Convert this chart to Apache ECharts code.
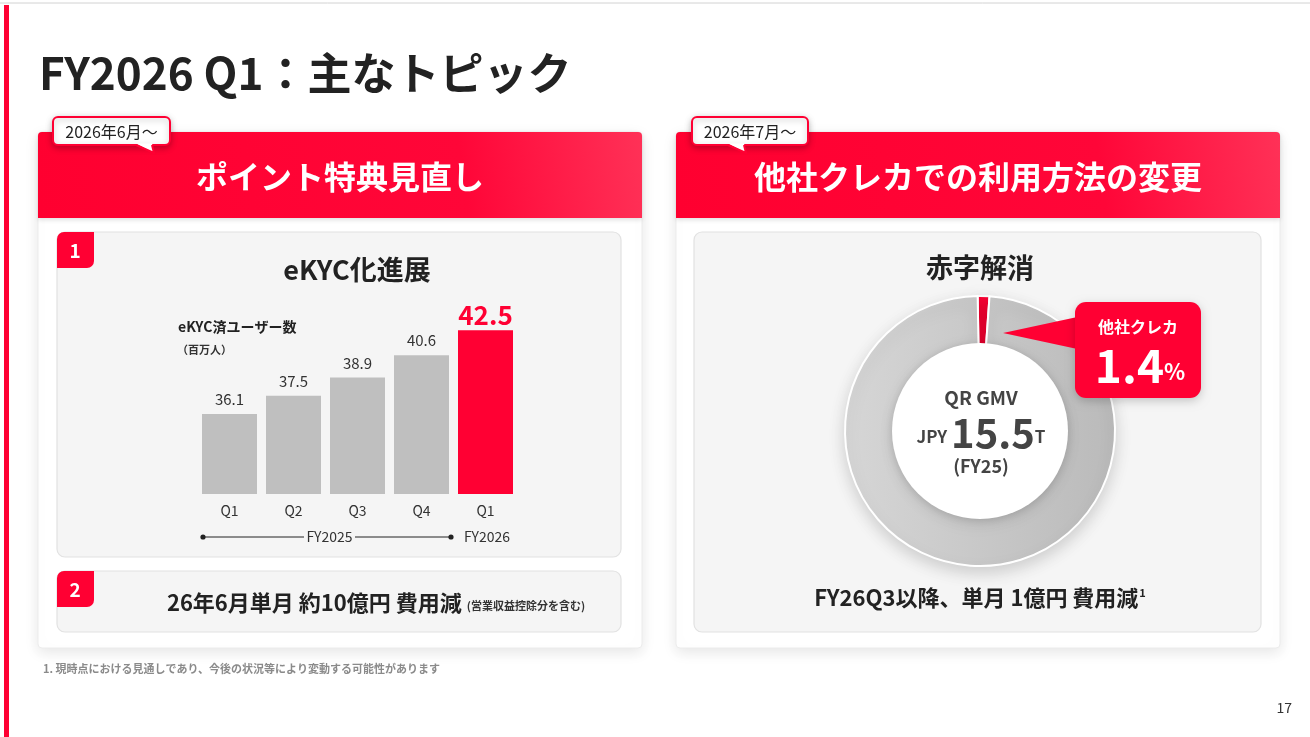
<!DOCTYPE html>
<html><head><meta charset="utf-8">
<script src="https://cdn.jsdelivr.net/npm/echarts@6/dist/echarts.min.js"></script>
<style>html,body{margin:0;padding:0;background:#fff;overflow:hidden}#c{width:1310px;height:737px}</style>
</head><body><div id="c"></div>
<script>
// ---- data ----
const categories = ['Q1', 'Q2', 'Q3', 'Q4', 'Q1'];
const ekycUsers = [36.1, 37.5, 38.9, 40.6, 42.5];
const highlightIndex = 4;
const fiscalGroups = ['FY2025', 'FY2026'];
const gmvShareNames = ['他社クレカ', 'その他'];
const gmvShareValues = [1.4, 98.6];
const gmvTotal = 15.5;

// ---- style ----
const F = '"Noto Sans CJK JP","Noto Sans",sans-serif';
const RED = '#ff0033';
const chart = echarts.init(document.getElementById('c'), null, {renderer: 'canvas'});

function headerGrad() {
  return new echarts.graphic.LinearGradient(0, 1, 1, 0, [
    {offset: 0, color: '#ff0030'}, {offset: 0.7, color: '#ff0638'}, {offset: 1, color: '#ff3157'}
  ]);
}
function txt(text, x, y, font, fill, align, z, extra) {
  return Object.assign({type: 'text', z: z || 20, style: Object.assign({
    text: text, x: x, y: y, font: font, fill: fill || '#222', align: align || 'left', verticalAlign: 'middle'
  }, extra || {})});
}
function tag(x, y, w, label, tailX) {
  const h = 28;
  return [
    {type: 'rect', z: 15, shape: {x: x, y: y, width: w, height: h, r: 5},
      style: {fill: '#fff', stroke: RED, lineWidth: 2, shadowBlur: 6, shadowColor: 'rgba(0,0,0,0.25)', shadowOffsetY: 2}},
    {type: 'polygon', z: 16, shape: {points: [[tailX - 14, y + h - 1.5], [tailX + 2, y + h - 1.5], [tailX + 4, y + h + 8]]},
      style: {fill: '#fff'}},
    {type: 'polyline', z: 16, shape: {points: [[tailX - 14, y + h], [tailX + 4, y + h + 8], [tailX + 2, y + h]]},
      style: {stroke: RED, lineWidth: 2, fill: null}},
    txt(label, x + w / 2, y + h / 2 + 0.5, '16px ' + F, '#222', 'center', 17)
  ];
}
function card(x, title, titleX) {
  return [
    {type: 'rect', z: 1, shape: {x: x, y: 132, width: 604, height: 516, r: 4},
      style: {fill: '#fff', stroke: '#ececec', lineWidth: 1, shadowBlur: 14, shadowColor: 'rgba(0,0,0,0.10)', shadowOffsetY: 4}},
    {type: 'rect', z: 2, shape: {x: x, y: 132, width: 604, height: 86, r: [4, 4, 0, 0]},
      style: {fill: headerGrad(), shadowBlur: 4, shadowColor: 'rgba(0,0,0,0.12)', shadowOffsetY: 2}},
    txt(title, titleX, 177, 'bold 32px ' + F, '#fff', 'center', 3)
  ];
}
function innerBox(x, y, w, h) {
  return {type: 'rect', z: 3, shape: {x: x, y: y, width: w, height: h, r: 8},
    style: {fill: '#f5f5f5', stroke: '#e2e2e2', lineWidth: 1.2}};
}
function badge(x, y, n) {
  return [
    {type: 'rect', z: 4, shape: {x: x, y: y, width: 37, height: 36, r: [7, 0, 7, 0]}, style: {fill: RED}},
    txt(n, x + 18, y + 19, 'bold 19px ' + F, '#fff', 'center', 5)
  ];
}

const graphics = [].concat(
  [
    {type: 'line', z: 1, shape: {x1: 0, y1: 3, x2: 1310, y2: 3}, style: {stroke: '#d2d2d2', lineWidth: 1}},
    {type: 'rect', z: 1, shape: {x: 4, y: 5, width: 5, height: 732}, style: {fill: RED}},
    txt('FY2026 Q1：主なトピック', 39, 73, 'bold 44px ' + F, '#222', 'left', 5)
  ],
  card(38, 'ポイント特典見直し', 340),
  card(676, '他社クレカでの利用方法の変更', 978),
  tag(53, 117, 117, '2026年6月～', 150),
  tag(692, 117, 116, '2026年7月～', 742),
  [innerBox(57, 232, 564, 325), innerBox(57, 571, 564, 61), innerBox(694, 232, 567, 400)],
  badge(57, 232, '1'),
  badge(57, 571, '2'),
  [
    txt('eKYC化進展', 357, 270, 'bold 27px ' + F, '#222', 'center', 6),
    txt('eKYC済ユーザー数', 178, 327, 'bold 14px ' + F, '#222', 'left', 6),
    txt('（百万人）', 177, 350, 'bold 11px ' + F, '#333', 'left', 6),
    // fiscal bracket
    {type: 'line', z: 6, shape: {x1: 202, y1: 537, x2: 304, y2: 537}, style: {stroke: '#222', lineWidth: 1}},
    {type: 'line', z: 6, shape: {x1: 355, y1: 537, x2: 451, y2: 537}, style: {stroke: '#222', lineWidth: 1}},
    {type: 'circle', z: 6, shape: {cx: 203, cy: 537, r: 2.6}, style: {fill: '#222'}},
    {type: 'circle', z: 6, shape: {cx: 451, cy: 537, r: 2.6}, style: {fill: '#222'}},
    txt(fiscalGroups[0], 329.5, 537, '14px ' + F, '#333', 'center', 6),
    txt(fiscalGroups[1], 487, 537, '14px ' + F, '#333', 'center', 6),
    // box 2 text
    txt('{a|26年6月単月 約10億円 費用減} {b|(営業収益控除分を含む)}', 376, 603, 'bold 22px ' + F, '#222', 'center', 6, {
      rich: {a: {font: 'bold 22px ' + F, fill: '#222'}, b: {font: 'bold 11px ' + F, fill: '#333', padding: [5, 0, 0, 0]}}
    }),
    // right panel
    txt('赤字解消', 980, 268, 'bold 27px ' + F, '#222', 'center', 6),
    {type: 'circle', z: 20, shape: {cx: 980, cy: 431, r: 88},
      style: {fill: '#fff', shadowBlur: 10, shadowColor: 'rgba(0,0,0,0.18)', shadowOffsetY: 2}},
    txt('QR GMV', 981, 398, 'bold 19px ' + F, '#444', 'center', 21),
    txt('{a|JPY }{b|' + gmvTotal + '}{c|T}', 981, 433, 'bold 17px ' + F, '#444', 'center', 21, {
      rich: {a: {font: 'bold 17px ' + F, fill: '#444', padding: [8, 0, 0, 0]},
             b: {font: 'bold 40px ' + F, fill: '#444'},
             c: {font: 'bold 17px ' + F, fill: '#444', padding: [8, 0, 0, 0]}}
    }),
    txt('(FY25)', 981, 466, 'bold 18px ' + F, '#444', 'center', 21),
    // callout
    {type: 'polygon', z: 22, shape: {points: [[1003, 333], [1082, 316], [1082, 350]]}, style: {fill: RED}},
    {type: 'rect', z: 22, shape: {x: 1075, y: 302, width: 126, height: 96, r: 11},
      style: {fill: RED, shadowBlur: 10, shadowColor: 'rgba(0,0,0,0.2)', shadowOffsetY: 3}},
    txt(gmvShareNames[0], 1138, 327, 'bold 16px ' + F, '#fff', 'center', 23),
    txt('{n|' + gmvShareValues[0] + '}{p|%}', 1140, 366, 'bold 46px ' + F, '#fff', 'center', 23, {
      rich: {n: {font: 'bold 46px ' + F, fill: '#fff'}, p: {font: 'bold 22px ' + F, fill: '#fff', padding: [12, 0, 0, 0]}}
    }),
    txt('{a|FY26Q3以降、単月 1億円 費用減}{s|1}', 980, 598, 'bold 22px ' + F, '#222', 'center', 6, {
      rich: {a: {font: 'bold 22px ' + F, fill: '#222'}, s: {font: 'bold 11px ' + F, fill: '#222', padding: [0, 0, 10, 1]}}
    }),
    // footnote & page
    txt('1. 現時点における見通しであり、今後の状況等により変動する可能性があります', 43, 669, 'bold 11px ' + F, '#8a8a8a', 'left', 6),
    txt('17', 1292, 708, '14px ' + F, '#333', 'right', 6)
  ]
);

const barData = ekycUsers.map((v, i) => i === highlightIndex ? {
  value: v,
  itemStyle: {color: RED},
  label: {fontSize: 26, fontWeight: 'bold', color: RED, distance: 2}
} : {value: v});

const option = {
  animation: false,
  backgroundColor: '#fff',
  graphic: {elements: graphics},
  grid: {left: 197.5, top: 297.5, width: 320, height: 196.5, containLabel: false, z: 10},
  xAxis: {
    type: 'category', data: categories, z: 12,
    axisLine: {show: false}, axisTick: {show: false}, splitLine: {show: false},
    axisLabel: {color: '#333', fontSize: 14, fontFamily: F, margin: 10}
  },
  yAxis: {type: 'value', min: 30, max: 45, show: false, z: 12},
  series: [
    {
      type: 'bar', z: 10, data: barData, barWidth: 55,
      itemStyle: {color: '#bfbfbf'},
      label: {show: true, position: 'top', distance: 7, color: '#333', fontSize: 15, fontFamily: F}
    },
    {
      type: 'pie', z: 10, center: [980, 431], radius: [86, 135], startAngle: 91, clockwise: true,
      label: {show: false}, labelLine: {show: false}, silent: true,
      itemStyle: {borderColor: '#fff', borderWidth: 2, shadowBlur: 16, shadowColor: 'rgba(0,0,0,0.16)', shadowOffsetY: 6},
      data: gmvShareNames.map((n, i) => ({
        name: n, value: gmvShareValues[i],
        itemStyle: {color: i === 0 ? RED : new echarts.graphic.LinearGradient(0, 0, 1, 0, [
          {offset: 0, color: '#d6d6d6'}, {offset: 1, color: '#bababa'}])}
      }))
    }
  ]
};
chart.setOption(option);
</script>
</body></html>
